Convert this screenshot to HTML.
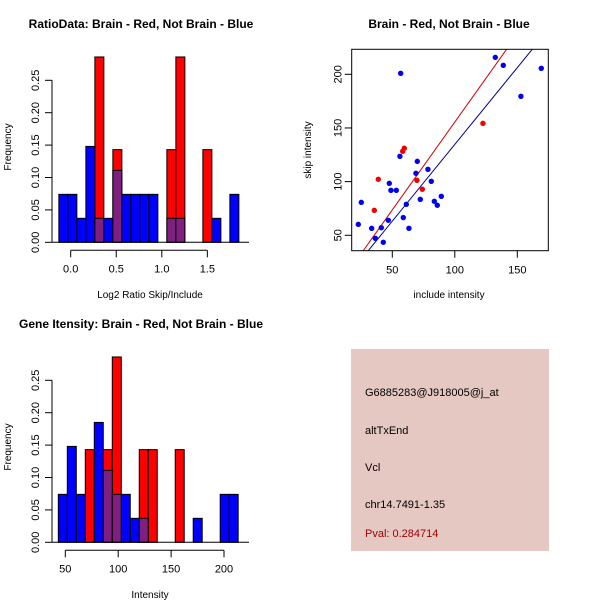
<!DOCTYPE html>
<html><head><meta charset="utf-8"><style>
body{margin:0;background:#fff;overflow:hidden}
svg{display:block;font-family:"Liberation Sans",sans-serif}
</style></head><body>
<svg id="c" width="600" height="600" viewBox="0 0 600 600" xmlns="http://www.w3.org/2000/svg">
<rect x="0" y="0" width="600" height="600" fill="#fff"/>
<g id="info">
<rect x="351" y="349" width="198" height="202" fill="#e6c8c2"/>
<text x="365" y="396" font-size="11" fill="#000">G6885283@J918005@j_at</text>
<text x="365" y="434" font-size="11" fill="#000">altTxEnd</text>
<text x="365" y="471" font-size="11" fill="#000">Vcl</text>
<text x="365" y="508" font-size="11" fill="#000">chr14.7491-1.35</text>
<text x="365" y="537" font-size="11" fill="#990000">Pval: 0.284714</text>
</g>
</svg>
<script>
// Histogram 1 (log2 ratio) bin frequencies, bins start at -0.13 width 0.0988
const h1Start = -0.13, h1Width = 0.0988;
const h1Blue = [0.074,0.074,0.037,0.148,0.037,0.037,0.111,0.074,0.074,0.074,0.074,0,0.037,0.037,0,0,0,0.037,0,0.074];
const h1Red  = [0,0,0,0,0.286,0,0.143,0,0,0,0,0,0.143,0.286,0,0,0.143,0,0,0];
const h1XTicks = [0,0.5,1,1.5];
const h1XLabels = ["0.0","0.5","1.0","1.5"];
// Histogram 2 (intensity)
const h2Start = 43.4, h2Width = 8.5;
const h2Blue = [0.074,0.148,0.074,0,0.185,0.111,0.074,0.074,0.037,0.037,0,0,0,0,0,0.037,0,0,0.074,0.074];
const h2Red  = [0,0,0,0.143,0,0.143,0.286,0,0,0.143,0.143,0,0,0.143,0,0,0,0,0,0];
const h2XTicks = [50,100,150,200];
const h2XLabels = ["50","100","150","200"];
const yTicks = [0,0.05,0.10,0.15,0.20,0.25];
const yLabels = ["0.00","0.05","0.10","0.15","0.20","0.25"];
// Scatter
const blueX = [22.8,25.2,33.5,36.4,41.2,42.8,46.8,47.6,48.9,53.2,56.7,56.1,58.8,61.2,63.3,68.9,70,72.4,78.5,81.2,83.6,86,89.2,132.4,138.8,152.9,169.2];
const blueY = [60.2,80.7,56.5,47.2,57.1,43.5,64.0,98.4,91.9,91.9,200.9,123.6,66.5,78.9,56.5,107.8,118.9,83.5,111.5,100.3,81.7,78.0,86.3,215.8,208.4,179.5,205.6];
const redX = [35.6,38.8,58.3,59.6,69.7,74,122.5];
const redY = [73.3,102.2,128.3,131.1,101.2,92.9,154.3];
const redFit = [-8.1,1.636];
const blueFit = [-8.3,1.43];
const scXTicks = [50,100,150];
const scYTicks = [50,100,150,200];

const svg = document.getElementById('c');
const NS = 'http://www.w3.org/2000/svg';
function mk(tag, at, parent){const e=document.createElementNS(NS,tag);for(const k in at)e.setAttribute(k,at[k]);(parent||svg).appendChild(e);return e;}

function hist(oy, start, width, blue, red, xScale, xt, xl, title, xlab, nm){
  const g = mk('g',{});
  
  
  const y0 = oy+202.3, ky = 648;
  const Y = v => y0 - v*ky;
  const X = xScale;
  for(let i=0;i<red.length;i++){ if(red[i]>0){
    const r = mk('rect',{x:X(start+i*width),y:Y(red[i]),width:X(start+(i+1)*width)-X(start+i*width),height:red[i]*ky,fill:'#ff0000',stroke:'#000','stroke-width':1},g);
    
    
  }}
  for(let i=0;i<blue.length;i++){ if(blue[i]>0){
    const ov = red[i]>0;
    const r = mk('rect',{x:X(start+i*width),y:Y(blue[i]),width:X(start+(i+1)*width)-X(start+i*width),height:blue[i]*ky,fill:ov?'#7f1f7f':'#0000ff',stroke:'#000','stroke-width':1},g);
    
    
  }}
  mk('line',{x1:52,x2:52,y1:Y(0),y2:Y(0.25),stroke:'#000'},g);
  yTicks.forEach((v,i)=>{
    mk('line',{x1:45,x2:52,y1:Y(v),y2:Y(v),stroke:'#000'},g);
    const t = mk('text',{x:0,y:0,'font-size':11,'text-anchor':'middle',transform:`translate(39,${Y(v)}) rotate(-90)`},g);
    t.textContent = yLabels[i];
    
    
  });
  mk('line',{x1:52,x2:249,y1:y0,y2:y0,stroke:'#000'},g);
  const ay = y0+8;
  mk('line',{x1:X(xt[0]),x2:X(xt[xt.length-1]),y1:ay,y2:ay,stroke:'#000'},g);
  xt.forEach((v,i)=>{
    mk('line',{x1:X(v),x2:X(v),y1:ay,y2:ay+7,stroke:'#000'},g);
    const t = mk('text',{x:X(v),y:ay+22,'font-size':11,'text-anchor':'middle'},g);
    t.textContent = xl[i];
    
    
  });
  const tt = mk('text',{x:141,y:oy-12,'font-size':12,'font-weight':'bold','text-anchor':'middle'},g);
  tt.textContent = title;
  
  
  const xa = mk('text',{x:150,y:oy+258,'font-size':10,'text-anchor':'middle'},g);
  xa.textContent = xlab;
  
  
  const ya = mk('text',{x:0,y:0,'font-size':10,'text-anchor':'middle',transform:`translate(11,${oy+107}) rotate(-90)`},g);
  ya.textContent = 'Frequency';
  
  
}
hist(40,h1Start,h1Width,h1Blue,h1Red,v=>70.7+v*91.1,h1XTicks,h1XLabels,'RatioData: Brain - Red, Not Brain - Blue','Log2 Ratio Skip/Include','ratio-histogram');
hist(340,h2Start,h2Width,h2Blue,h2Red,v=>65.3+(v-50)*1.058,h2XTicks,h2XLabels,'Gene Itensity: Brain - Red, Not Brain - Blue','Intensity','intensity-histogram');

(function(){
  const g = mk('g',{});
  
  
  const L=351.7,R=548.3,T=49.3,B=250.7;
  const X = v => 392.3+(v-50)*1.25;
  const Y = v => 235.3-(v-50)*1.0733;
  const defs = mk('defs',{},g);
  const cp = mk('clipPath',{id:'clip'},defs);
  mk('rect',{x:L,y:T,width:R-L,height:B-T},cp);
  [[redFit,'#cc0000','red-fit-line'],[blueFit,'#00008b','blue-fit-line']].forEach(([f,c,n])=>{
    const x1=10,x2=200;
    const l = mk('line',{x1:X(x1),y1:Y(f[0]+f[1]*x1),x2:X(x2),y2:Y(f[0]+f[1]*x2),stroke:c,'stroke-width':1,'clip-path':'url(#clip)'},g);
    
    
  });
  blueX.forEach((v,i)=>{
    const p = mk('circle',{cx:X(v),cy:Y(blueY[i]),r:2.7,fill:'#0000ee'},g);
    
    
  });
  redX.forEach((v,i)=>{
    const p = mk('circle',{cx:X(v),cy:Y(redY[i]),r:2.7,fill:'#ee0000'},g);
    
    
  });
  mk('rect',{x:L,y:T,width:R-L,height:B-T,fill:'none',stroke:'#000'},g);
  scXTicks.forEach(v=>{
    mk('line',{x1:X(v),x2:X(v),y1:B,y2:B+7,stroke:'#000'},g);
    const t = mk('text',{x:X(v),y:B+23,'font-size':11,'text-anchor':'middle'},g);
    t.textContent = String(v);
    
    
  });
  scYTicks.forEach(v=>{
    mk('line',{x1:L-7,x2:L,y1:Y(v),y2:Y(v),stroke:'#000'},g);
    const t = mk('text',{x:0,y:0,'font-size':11,'text-anchor':'middle',transform:`translate(${L-10},${Y(v)}) rotate(-90)`},g);
    t.textContent = String(v);
    
    
  });
  const tt = mk('text',{x:449,y:28,'font-size':12,'font-weight':'bold','text-anchor':'middle'},g);
  tt.textContent = 'Brain - Red, Not Brain - Blue';
  
  
  const xa = mk('text',{x:449,y:298,'font-size':10,'text-anchor':'middle'},g);
  xa.textContent = 'include intensity';
  
  
  const ya = mk('text',{x:0,y:0,'font-size':10,'text-anchor':'middle',transform:'translate(311,150) rotate(-90)'},g);
  ya.textContent = 'skip intensity';
  
  
})();
</script>
</body></html>
